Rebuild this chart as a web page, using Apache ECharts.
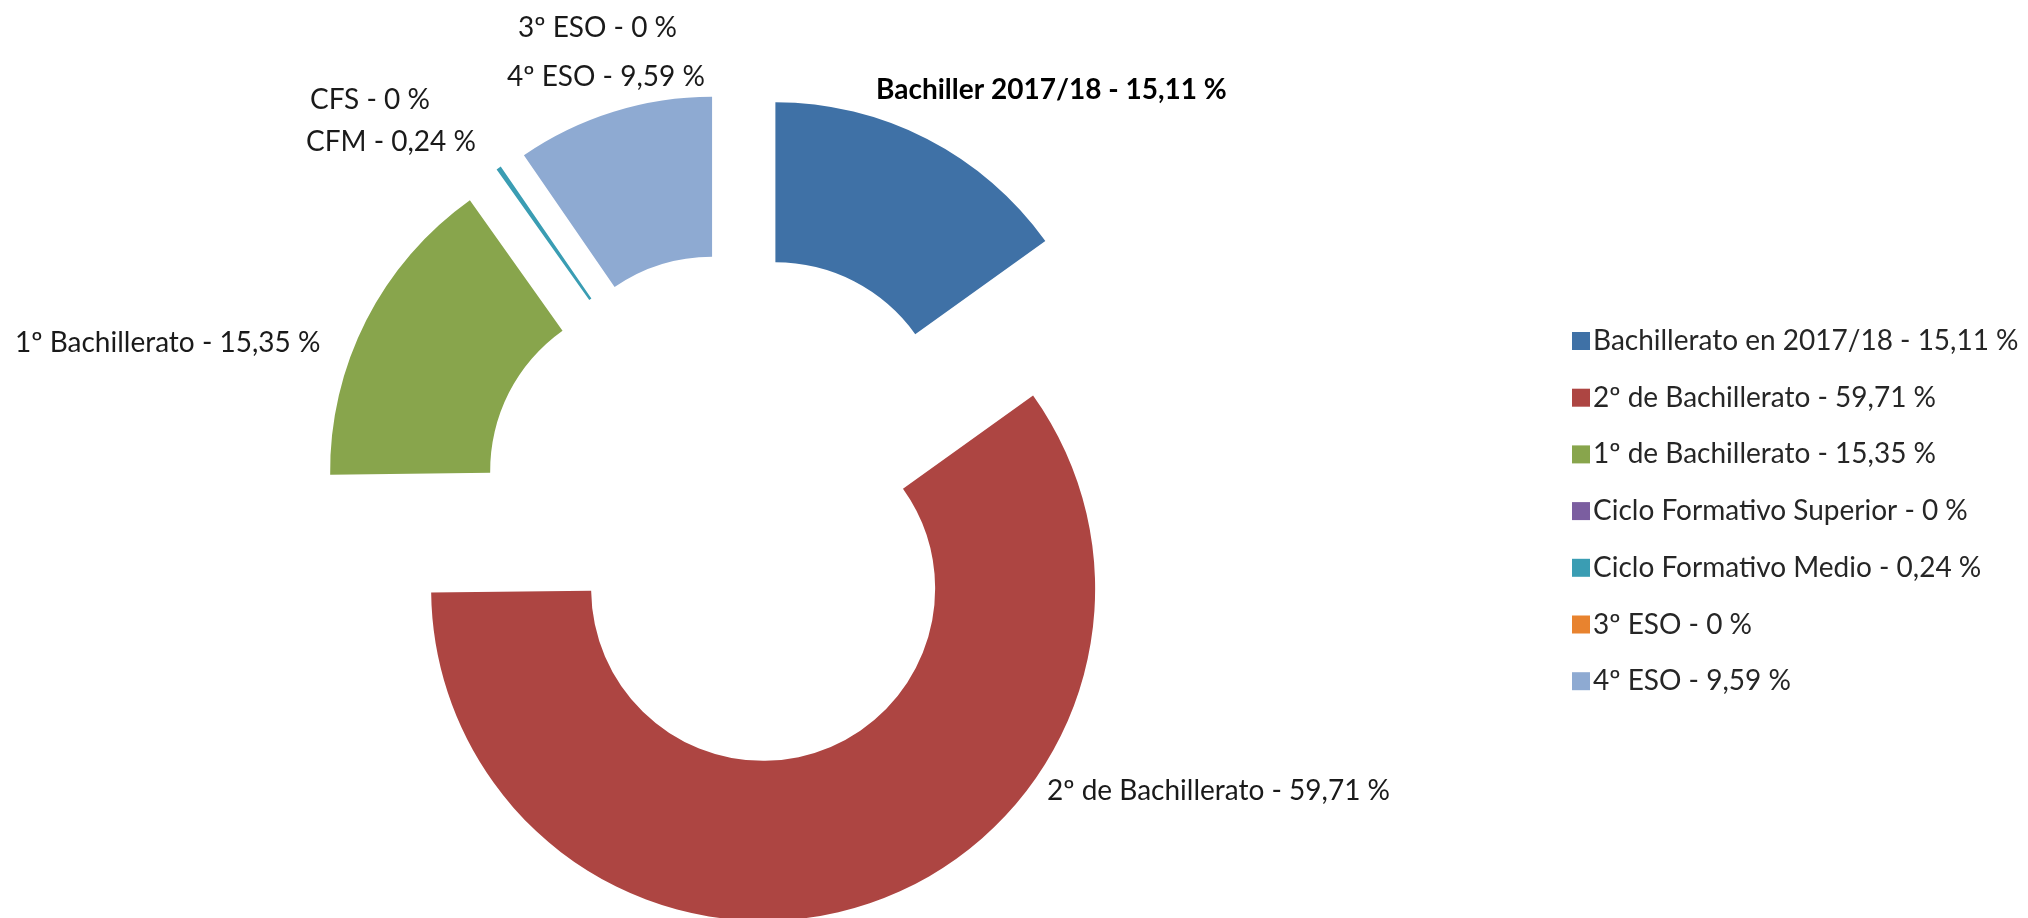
<!DOCTYPE html>
<html><head><meta charset="utf-8">
<script src="https://cdn.jsdelivr.net/npm/echarts@6/dist/echarts.min.js"></script>
<style>html,body{margin:0;padding:0;background:#fff}#c{width:2028px;height:918px}</style>
</head><body><div id="c"></div>
<script>
const categories = [
  'Bachillerato en 2017/18 - 15,11 %',
  '2º de Bachillerato - 59,71 %',
  '1º de Bachillerato - 15,35 %',
  'Ciclo Formativo Superior - 0 %',
  'Ciclo Formativo Medio - 0,24 %',
  '3º ESO - 0 %',
  '4º ESO - 9,59 %'
];
const values = [15.11, 59.71, 15.35, 0, 0.24, 0, 9.59];
const sliceLabels = [
  'Bachiller 2017/18 - 15,11 %',
  '2º de Bachillerato - 59,71 %',
  '1º Bachillerato - 15,35 %',
  'CFS - 0 %',
  'CFM - 0,24 %',
  '3º ESO - 0 %',
  '4º ESO - 9,59 %'
];
const colors = ['#3f71a6', '#ad4542', '#88a54c', '#7b5ea0', '#3a9db3', '#e8832f', '#8eaad2'];
// label anchor positions (left edge, vertical middle), in pixels
const labelAnchors = [[876, 90], [1047, 791], [15, 343], [310, 100], [306, 142], [518, 28], [507, 77]];

const FONT = 'Lato';
const FS = 28;
const chart = echarts.init(document.getElementById('c'));
chart.setOption({
  animation: false,
  color: colors,
  legend: {
    orient: 'vertical',
    left: 1567,
    top: 321,
    itemWidth: 18,
    itemHeight: 18,
    itemGap: 26.7,
    icon: 'rect',
    textStyle: { fontFamily: FONT, fontSize: FS, color: '#262626', lineHeight: 30, padding: [0, 0, 0, -2] },
    data: categories,
    selectedMode: false
  },
  graphic: sliceLabels.map((t, i) => ({
    type: 'text',
    silent: true,
    style: {
      text: t,
      x: labelAnchors[i][0],
      y: labelAnchors[i][1],
      fill: i === 0 ? '#000' : '#1a1a1a',
      fontFamily: FONT,
      fontSize: FS,
      fontWeight: i === 0 ? 'bold' : 'normal',
      align: 'left',
      verticalAlign: 'middle'
    }
  })),
  series: [{
    type: 'pie',
    center: [737, 509],
    radius: [172, 332],
    startAngle: 90,
    clockwise: true,
    selectedMode: 'multiple',
    selectedOffset: 84,
    avoidLabelOverlap: false,
    stillShowZeroSum: true,
    emphasis: { disabled: true },
    itemStyle: { borderWidth: 0 },
    label: { show: false },
    labelLine: { show: false },
    data: categories.map((n, i) => ({
      name: n,
      value: values[i],
      selected: true
    }))
  }]
});
</script></body></html>
